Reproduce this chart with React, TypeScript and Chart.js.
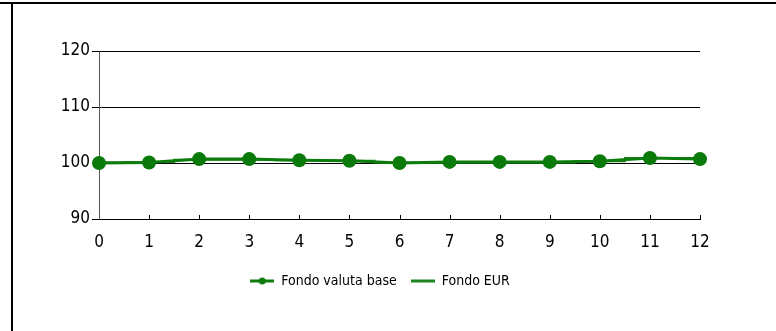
import React, { useEffect, useRef } from "react";
import { Chart, registerables } from "chart.js";
Chart.register(...registerables);

const categories = ["0", "1", "2", "3", "4", "5", "6", "7", "8", "9", "10", "11", "12"];
const fondoValutaBase = [100, 100.1, 100.7, 100.7, 100.5, 100.4, 100.0, 100.2, 100.2, 100.2, 100.3, 100.9, 100.7];
const fondoEUR = [100.1, 100.2, 100.6, 100.6, 100.5, 100.4, 100.1, 100.1, 100.1, 100.1, 100.3, 100.9, 100.9];
const yMin = 90;
const yMax = 120;
const yStep = 10;

const FONT = '"Liberation Sans Narrow", "DejaVu Sans Condensed", Arial, sans-serif';

function makeMarkerLegendIcon(): HTMLCanvasElement {
  const c = document.createElement("canvas");
  c.width = 24;
  c.height = 8;
  const ctx = c.getContext("2d")!;
  ctx.strokeStyle = "#0c7c0c";
  ctx.lineWidth = 3;
  ctx.beginPath();
  ctx.moveTo(0, 4);
  ctx.lineTo(24, 4);
  ctx.stroke();
  ctx.fillStyle = "#0c7c0c";
  ctx.beginPath();
  ctx.arc(12, 4, 3.5, 0, Math.PI * 2);
  ctx.fill();
  return c;
}

function makeLineLegendIcon(): HTMLCanvasElement {
  const c = document.createElement("canvas");
  c.width = 24;
  c.height = 8;
  const ctx = c.getContext("2d")!;
  ctx.strokeStyle = "#1f851f";
  ctx.lineWidth = 3;
  ctx.beginPath();
  ctx.moveTo(0, 4);
  ctx.lineTo(24, 4);
  ctx.stroke();
  return c;
}

const innerTicks = {
  id: "innerTicks",
  afterDatasetsDraw(chart: any) {
    const x = chart.scales.x;
    const area = chart.chartArea;
    const ctx = chart.ctx;
    ctx.save();
    ctx.strokeStyle = "#000";
    ctx.lineWidth = 1;
    for (let i = 1; i < categories.length; i++) {
      const px = Math.round(x.getPixelForValue(i)) + 0.5;
      ctx.beginPath();
      ctx.moveTo(px, area.bottom);
      ctx.lineTo(px, area.bottom - 4);
      ctx.stroke();
    }
    ctx.restore();
  },
};

export default function App() {
  const ref = useRef<HTMLCanvasElement>(null);
  useEffect(() => {
    if (!ref.current) return;
    const markerIcon = makeMarkerLegendIcon();
    const lineIcon = makeLineLegendIcon();
    const chart = new Chart(ref.current, {
      type: "line",
      data: {
        labels: categories,
        datasets: [
          {
            label: "Fondo valuta base",
            data: fondoValutaBase,
            borderColor: "#0c7c0c",
            backgroundColor: "#0c7c0c",
            borderWidth: 3,
            pointRadius: 7,
            pointBackgroundColor: "#0a7a0a",
            pointBorderColor: "#0a7a0a",
            pointBorderWidth: 0,
            tension: 0,
            fill: false,
            pointStyle: "circle",
          },
          {
            label: "Fondo EUR",
            data: fondoEUR,
            borderColor: "#1f851f",
            backgroundColor: "#1f851f",
            borderWidth: 2,
            pointRadius: 0,
            stepped: "middle",
            fill: false,
          },
        ],
      },
      options: {
        animation: false,
        responsive: false,
        maintainAspectRatio: false,
        layout: { padding: { left: 60, right: 76, top: 51, bottom: 33 } },
        plugins: {
          tooltip: { enabled: false },
          legend: {
            position: "bottom",
            labels: {
              usePointStyle: true,
              pointStyleWidth: 24,
              color: "#000",
              padding: 14,
              font: { family: FONT, size: 14 },
              generateLabels: (ch: any) =>
                ch.data.datasets.map((d: any, i: number) => ({
                  text: d.label,
                  pointStyle: i === 0 ? markerIcon : lineIcon,
                  fillStyle: d.borderColor,
                  strokeStyle: d.borderColor,
                  lineWidth: 0,
                  hidden: false,
                  datasetIndex: i,
                  fontColor: "#000",
                })),
            },
          },
        },
        scales: {
          x: {
            type: "category",
            offset: false,
            grid: { display: true, drawOnChartArea: false, drawTicks: false, color: "#000" },
            border: { color: "#000", width: 1 },
            ticks: { color: "#000", padding: 13, font: { family: FONT, size: 17 }, maxRotation: 0, autoSkip: false },
            afterFit: (s: any) => {
              s.height = 41;
            },
          },
          y: {
            min: yMin,
            max: yMax,
            grid: { color: "#000", lineWidth: 1, tickLength: 7, drawTicks: true },
            border: { color: "#555", width: 1 },
            ticks: { stepSize: yStep, color: "#000", padding: 2, font: { family: FONT, size: 17 } },
            afterFit: (s: any) => {
              s.width = 39;
            },
          },
        },
      },
      plugins: [innerTicks],
    });
    return () => chart.destroy();
  }, []);

  return (
    <div style={{ position: "fixed", left: 0, top: 0, width: 776, height: 331, background: "#fff" }}>
      <div style={{ position: "absolute", left: 0, top: 2, width: 776, height: 2, background: "#000" }} />
      <div style={{ position: "absolute", left: 11, top: 3, width: 2, height: 328, background: "#000" }} />
      <canvas ref={ref} width={776} height={331} style={{ position: "absolute", left: 0, top: 0 }} />
    </div>
  );
}
